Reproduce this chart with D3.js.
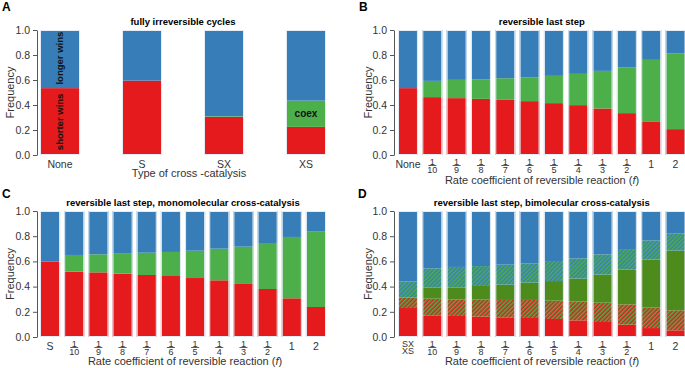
<!DOCTYPE html>
<html>
<head>
<meta charset="utf-8">
<script src="https://cdn.jsdelivr.net/npm/d3@7"></script>
<style>
  body { margin: 0; background: #fff; }
  svg { display: block; }
  text { font-family: "Liberation Sans", Arial, sans-serif; }
</style>
</head>
<body>
<svg id="chart" width="685" height="368"></svg>
<script>
// ---- data ----
// A: fully irreversible cycles
let catsA = ["None", "S", "SX", "XS"];
let shorterA = [0.535, 0.595, 0.305, 0.225];
let coexA    = [0.0,   0.0,   0.005, 0.21];
let longerA  = [0.465, 0.405, 0.69,  0.565];

// B: reversible last step
let catsB = ["None", "1/10", "1/9", "1/8", "1/7", "1/6", "1/5", "1/4", "1/3", "1/2", "1", "2"];
let shorterB = [0.535, 0.463, 0.455, 0.449, 0.441, 0.431, 0.415, 0.399, 0.372, 0.335, 0.269, 0.207];
let coexB    = [0.0,   0.130, 0.146, 0.157, 0.173, 0.191, 0.218, 0.250, 0.301, 0.367, 0.492, 0.607];
let longerB  = [0.465, 0.407, 0.399, 0.394, 0.386, 0.378, 0.367, 0.351, 0.327, 0.298, 0.239, 0.186];

// C: reversible last step, monomolecular cross-catalysis
let catsC = ["S", "1/10", "1/9", "1/8", "1/7", "1/6", "1/5", "1/4", "1/3", "1/2", "1", "2"];
let shorterC = [0.598, 0.519, 0.513, 0.503, 0.492, 0.484, 0.468, 0.450, 0.421, 0.381, 0.307, 0.238];
let coexC    = [0.0,   0.132, 0.143, 0.158, 0.177, 0.191, 0.217, 0.251, 0.296, 0.365, 0.487, 0.598];
let longerC  = [0.402, 0.349, 0.344, 0.339, 0.331, 0.325, 0.315, 0.299, 0.283, 0.254, 0.206, 0.164];

// D: reversible last step, bimolecular cross-catalysis
let catsD = ["SX\nXS", "1/10", "1/9", "1/8", "1/7", "1/6", "1/5", "1/4", "1/3", "1/2", "1", "2"];
let shorterD    = [0.230, 0.172, 0.167, 0.161, 0.156, 0.151, 0.143, 0.132, 0.119, 0.098, 0.071, 0.053];
let shorterMixD = [0.082, 0.132, 0.132, 0.138, 0.138, 0.143, 0.145, 0.151, 0.153, 0.161, 0.162, 0.159];
let coexD       = [0.0,   0.087, 0.095, 0.106, 0.121, 0.137, 0.156, 0.180, 0.223, 0.275, 0.381, 0.473];
let longerMixD  = [0.130, 0.154, 0.162, 0.158, 0.159, 0.154, 0.159, 0.161, 0.161, 0.164, 0.151, 0.135];
let longerD     = [0.558, 0.455, 0.444, 0.437, 0.426, 0.415, 0.397, 0.376, 0.344, 0.302, 0.235, 0.180];

let yTicks = [0, 0.2, 0.4, 0.6, 0.8, 1.0];

let red = "#e41a1c", blue = "#377eb8", green = "#4daf4a", darkGreen = "#4e8b1d";

let svg = d3.select("#chart");
let defs = svg.append("defs");

function hatch(id, bg, fg) {
  let p = defs.append("pattern")
    .attr("id", id)
    .attr("patternUnits", "userSpaceOnUse")
    .attr("width", 3).attr("height", 3)
    .attr("patternTransform", "rotate(45)");
  p.append("rect").attr("width", 3).attr("height", 3).attr("fill", bg);
  p.append("rect").attr("width", 1.5).attr("height", 3).attr("fill", fg);
}
hatch("hatchRG", red, green);
hatch("hatchGB", blue, green);

function drawPanel(cfg) {
  let g = svg.append("g");
  let rows = cfg.cats.map(function(c, i) {
    let r = {cat: c};
    cfg.layers.forEach(function(l) { r[l.key] = l.values[i]; });
    return r;
  });
  let stacked = d3.stack().keys(cfg.layers.map(l => l.key))(rows);

  let x = d3.scaleBand().domain(cfg.cats).range(cfg.xRange)
    .paddingInner(cfg.pad).paddingOuter(0);
  let y = d3.scaleLinear().domain([0, 1]).range(cfg.yRange);

  stacked.forEach(function(s, li) {
    g.selectAll(null).data(s).enter().append("rect")
      .attr("x", d => x(d.data.cat))
      .attr("width", x.bandwidth())
      .attr("y", d => y(d[1]))
      .attr("height", d => Math.max(0, y(d[0]) - y(d[1])))
      .attr("fill", cfg.layers[li].fill);
  });
  // pale outline round each bar
  g.selectAll(null).data(cfg.cats).enter().append("rect")
    .attr("x", d => x(d) + 0.5)
    .attr("width", x.bandwidth() - 1)
    .attr("y", y(1) + 0.5)
    .attr("height", y(0) - y(1) - 1)
    .attr("fill", "none")
    .attr("stroke", "#e4edf7")
    .attr("stroke-width", 1);

  // y axis
  let ax = g.append("g")
    .attr("transform", "translate(" + cfg.axisX + ",0)")
    .call(d3.axisLeft(y).tickValues(yTicks).tickFormat(d3.format(".1f")).tickSize(4).tickSizeOuter(0));
  ax.select(".domain").attr("stroke", "#555");
  ax.selectAll(".tick line").attr("stroke", "#555");
  ax.selectAll("text").attr("font-size", 10.5).attr("fill", "#333")
    .attr("font-family", "Liberation Sans, Arial, sans-serif");

  g.append("text")
    .attr("transform", "translate(" + cfg.yLabelX + "," + (y(0.5)) + ") rotate(-90)")
    .attr("text-anchor", "middle")
    .attr("font-size", 11).attr("fill", "#333")
    .text("Frequency");

  // x labels
  let base = y(0);
  cfg.cats.forEach(function(c) {
    let cx = x(c) + x.bandwidth() / 2;
    if (c.indexOf("/") > 0) {
      let parts = c.split("/");
      g.append("text").attr("x", cx).attr("y", base + 9.5)
        .attr("text-anchor", "middle").attr("font-size", 9).attr("fill", "#333").text(parts[0]);
      g.append("line").attr("x1", cx - 4).attr("x2", cx + 4)
        .attr("y1", base + 10.5).attr("y2", base + 10.5)
        .attr("stroke", "#333").attr("stroke-width", 0.8);
      g.append("text").attr("x", cx).attr("y", base + 17.5)
        .attr("text-anchor", "middle").attr("font-size", 9).attr("fill", "#333").text(parts[1]);
    } else if (c.indexOf("\n") > 0) {
      let parts = c.split("\n");
      g.append("text").attr("x", cx).attr("y", base + 9.5)
        .attr("text-anchor", "middle").attr("font-size", 9).attr("fill", "#333").text(parts[0]);
      g.append("text").attr("x", cx).attr("y", base + 16.5)
        .attr("text-anchor", "middle").attr("font-size", 9).attr("fill", "#333").text(parts[1]);
    } else {
      g.append("text").attr("x", cx).attr("y", base + 13)
        .attr("text-anchor", "middle").attr("font-size", 10.5).attr("fill", "#333").text(c);
    }
  });

  // x title
  let xt = g.append("text")
    .attr("x", cfg.xTitleX).attr("y", cfg.xTitleY)
    .attr("text-anchor", "middle").attr("font-size", 11).attr("fill", "#333");
  if (cfg.italicF) {
    xt.append("tspan").text("Rate coefficient of reversible reaction (");
    xt.append("tspan").attr("font-style", "italic").text("f");
    xt.append("tspan").text(")");
  } else {
    xt.text(cfg.xTitle);
  }

  // panel title and letter
  g.append("text")
    .attr("x", (cfg.xRange[0] + cfg.xRange[1]) / 2).attr("y", y(1) - 5)
    .attr("text-anchor", "middle").attr("font-size", 9.5).attr("font-weight", "bold")
    .text(cfg.title);
  g.append("text")
    .attr("x", cfg.letterX).attr("y", cfg.letterY)
    .attr("font-size", 12).attr("font-weight", "bold")
    .text(cfg.letter);

  return {g: g, x: x, y: y};
}

let A = drawPanel({
  cats: catsA,
  layers: [
    {key: "shorter", values: shorterA, fill: red},
    {key: "coex", values: coexA, fill: green},
    {key: "longer", values: longerA, fill: blue}
  ],
  xRange: [40, 326], pad: 0.512, yRange: [155, 30], axisX: 37, yLabelX: 14,
  xTitle: "Type of cross -catalysis", xTitleX: 189, xTitleY: 177,
  title: "fully irreversible cycles", letter: "A", letterX: 2, letterY: 11
});

// inline labels of panel A
A.g.append("text")
  .attr("transform", "translate(" + (A.x("None") + 23) + "," + A.y(0.775) + ") rotate(-90)")
  .attr("text-anchor", "middle").attr("font-size", 9.5).attr("font-weight", "bold").attr("fill", "#111")
  .text("longer wins");
A.g.append("text")
  .attr("transform", "translate(" + (A.x("None") + 23) + "," + A.y(0.265) + ") rotate(-90)")
  .attr("text-anchor", "middle").attr("font-size", 9.5).attr("font-weight", "bold").attr("fill", "#111")
  .text("shorter wins");
A.g.append("text")
  .attr("x", A.x("XS") + A.x.bandwidth() / 2).attr("y", A.y(0.33) + 3.5)
  .attr("text-anchor", "middle").attr("font-size", 10).attr("font-weight", "bold").attr("fill", "#111")
  .text("coex");

drawPanel({
  cats: catsB,
  layers: [
    {key: "shorter", values: shorterB, fill: red},
    {key: "coex", values: coexB, fill: green},
    {key: "longer", values: longerB, fill: blue}
  ],
  xRange: [398, 685.5], pad: 0.18, yRange: [155, 30], axisX: 394, yLabelX: 372,
  italicF: true, xTitleX: 542, xTitleY: 184,
  title: "reversible last step", letter: "B", letterX: 359, letterY: 11
});

drawPanel({
  cats: catsC,
  layers: [
    {key: "shorter", values: shorterC, fill: red},
    {key: "coex", values: coexC, fill: green},
    {key: "longer", values: longerC, fill: blue}
  ],
  xRange: [40, 326], pad: 0.17, yRange: [337, 211], axisX: 37, yLabelX: 14,
  italicF: true, xTitleX: 185, xTitleY: 365,
  title: "reversible last step, monomolecular cross-catalysis", letter: "C", letterX: 2, letterY: 198
});

drawPanel({
  cats: catsD,
  layers: [
    {key: "shorter", values: shorterD, fill: red},
    {key: "shorterMix", values: shorterMixD, fill: "url(#hatchRG)"},
    {key: "coex", values: coexD, fill: darkGreen},
    {key: "longerMix", values: longerMixD, fill: "url(#hatchGB)"},
    {key: "longer", values: longerD, fill: blue}
  ],
  xRange: [398, 685.5], pad: 0.18, yRange: [337, 211], axisX: 394, yLabelX: 372,
  italicF: true, xTitleX: 542, xTitleY: 365,
  title: "reversible last step, bimolecular cross-catalysis", letter: "D", letterX: 358, letterY: 198
});
</script>
</body>
</html>
